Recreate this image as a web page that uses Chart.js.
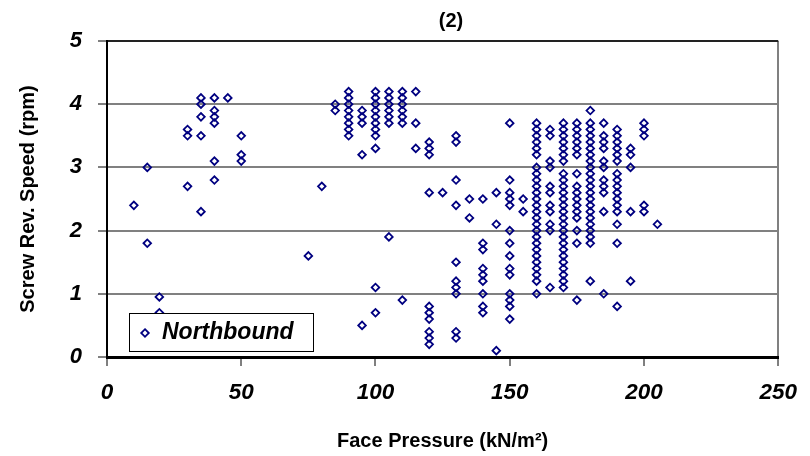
<!DOCTYPE html>
<html>
<head>
<meta charset="utf-8">
<script src="https://cdn.jsdelivr.net/npm/chart.js@4.4.0/dist/chart.umd.min.js"></script>
<style>
  html, body { margin: 0; padding: 0; background: #fff; }
  #wrap { width: 810px; height: 456px; }
</style>
</head>
<body>
<div id="wrap"><canvas id="myChart" width="810" height="456"></canvas></div>
<script>
// Face pressure (kN/m2) of each column of readings
const pressures = [10, 15, 19.5, 30, 35, 40, 45, 50, 75, 80, 85, 90, 95, 100, 105, 110, 115, 120, 125, 130,
    135, 140, 145, 150, 155, 160, 165, 170, 175, 180, 185, 190, 195, 200, 205];

// Screw rev. speed (rpm) read at each pressure above
const speeds = [
    [2.4],
    [3.0, 1.8],
    [0.95, 0.7],
    [3.6, 3.5, 2.7],
    [4.1, 4.0, 3.8, 3.5, 2.3],
    [4.1, 3.9, 3.8, 3.7, 3.1, 2.8],
    [4.1],
    [3.5, 3.2, 3.1],
    [1.6],
    [2.7],
    [4.0, 3.9],
    [4.2, 4.1, 4.0, 3.9, 3.8, 3.7, 3.6, 3.5],
    [3.9, 3.8, 3.7, 3.2, 0.5],
    [4.2, 4.1, 4.0, 3.9, 3.8, 3.7, 3.6, 3.5, 3.3, 1.1, 0.7],
    [4.2, 4.1, 4.0, 3.9, 3.8, 3.7, 1.9],
    [4.2, 4.1, 4.0, 3.9, 3.8, 3.7, 0.9],
    [4.2, 3.7, 3.3],
    [3.4, 3.3, 3.2, 2.6, 0.8, 0.7, 0.6, 0.4, 0.3, 0.2],
    [2.6],
    [3.5, 3.4, 2.8, 2.4, 1.5, 1.2, 1.1, 1.0, 0.4, 0.3],
    [2.5, 2.2],
    [2.5, 1.8, 1.7, 1.4, 1.3, 1.2, 1.0, 0.8, 0.7],
    [2.6, 2.1, 0.1],
    [3.7, 2.8, 2.6, 2.5, 2.4, 2.0, 1.8, 1.6, 1.4, 1.3, 1.0, 0.9, 0.8, 0.6],
    [2.5, 2.3],
    [3.7, 3.6, 3.5, 3.4, 3.3, 3.2, 3.0, 2.9, 2.8, 2.7, 2.6, 2.5, 2.4, 2.3, 2.2, 2.1, 2.0, 1.9, 1.8, 1.7, 1.6, 1.5, 1.4, 1.3, 1.2, 1.0],
    [3.6, 3.5, 3.1, 3.0, 2.7, 2.6, 2.4, 2.3, 2.1, 2.0, 1.1],
    [3.7, 3.6, 3.5, 3.4, 3.3, 3.2, 3.1, 2.9, 2.8, 2.7, 2.6, 2.5, 2.4, 2.3, 2.2, 2.1, 2.0, 1.9, 1.8, 1.7, 1.6, 1.5, 1.4, 1.3, 1.2, 1.1],
    [3.7, 3.6, 3.5, 3.4, 3.3, 3.2, 2.9, 2.7, 2.6, 2.5, 2.4, 2.3, 2.2, 2.0, 1.8, 0.9],
    [3.9, 3.7, 3.6, 3.5, 3.4, 3.3, 3.2, 3.1, 3.0, 2.9, 2.8, 2.7, 2.6, 2.5, 2.4, 2.3, 2.2, 2.1, 2.0, 1.9, 1.8, 1.2],
    [3.7, 3.5, 3.4, 3.3, 3.1, 3.0, 2.8, 2.7, 2.6, 2.3, 1.0],
    [3.6, 3.5, 3.4, 3.3, 3.2, 3.1, 2.9, 2.8, 2.7, 2.6, 2.5, 2.4, 2.3, 2.1, 1.8, 0.8],
    [3.3, 3.2, 3.0, 2.3, 1.2],
    [3.7, 3.6, 3.5, 2.4, 2.3],
    [2.1]
];

const seriesName = 'Northbound';
const chartTitle = '(2)';
const xTitle = 'Face Pressure (kN/m\u00B2)';
const yTitle = 'Screw Rev. Speed (rpm)';

const FONT = '"Liberation Sans", Arial, sans-serif';
const navy = '#000080';

// monta os pontos (x, y)
const points = [];
pressures.forEach((p, i) => {
    speeds[i].forEach(s => points.push({ x: p, y: s }));
});

// título "(2)" centrado sobre a área do gráfico
const titlePlugin = {
    id: 'topTitle',
    afterDraw(chart) {
        const c = chart.ctx;
        c.save();
        c.font = 'bold 20px ' + FONT;
        c.fillStyle = '#000';
        c.textAlign = 'center';
        c.textBaseline = 'middle';
        c.fillText(chartTitle, 451, 21);
        c.restore();
    }
};

// legenda dentro da área do gráfico, desenhada por cima dos pontos
const boxLegend = {
    id: 'boxLegend',
    afterDraw(chart) {
        const c = chart.ctx;
        c.save();
        c.fillStyle = '#fff';
        c.fillRect(129, 313, 184, 38);
        c.strokeStyle = '#000';
        c.lineWidth = 1;
        c.strokeRect(129.5, 313.5, 184, 38);
        // marcador
        c.beginPath();
        c.moveTo(145, 329.2);
        c.lineTo(148.8, 333);
        c.lineTo(145, 336.8);
        c.lineTo(141.2, 333);
        c.closePath();
        c.strokeStyle = navy;
        c.lineWidth = 1.8;
        c.stroke();
        c.font = 'italic bold 23px ' + FONT;
        c.fillStyle = '#000';
        c.textAlign = 'left';
        c.textBaseline = 'middle';
        c.fillText(seriesName, 162, 333);
        c.restore();
    }
};

const ctx = document.getElementById('myChart').getContext('2d');
new Chart(ctx, {
    type: 'scatter',
    data: {
        datasets: [{
            label: seriesName,
            data: points,
            pointStyle: 'rectRot',
            pointRadius: 3.8,
            pointBorderWidth: 1.8,
            pointBorderColor: navy,
            pointBackgroundColor: 'rgba(255,255,255,0)',
            pointHoverRadius: 3.8
        }]
    },
    options: {
        responsive: false,
        animation: false,
        layout: { padding: { top: 41, right: 31, left: 0, bottom: 0 } },
        scales: {
            x: {
                type: 'linear',
                min: 0,
                max: 250,
                afterFit: s => { s.height = 99; },
                ticks: {
                    stepSize: 50,
                    color: '#000',
                    padding: 13,
                    font: { family: FONT, size: 22.5, style: 'italic', weight: 'bold' }
                },
                grid: {
                    color: c => (c.tick && c.tick.value === 250) ? '#808080' : 'rgba(0,0,0,0)',
                    lineWidth: 2,
                    tickLength: 9,
                    tickColor: '#000',
                    tickWidth: 1
                },
                border: { color: '#000', width: 3 },
                title: {
                    display: true,
                    text: xTitle,
                    color: '#000',
                    padding: { top: 0, bottom: 3 },
                    font: { family: FONT, size: 20, weight: 'bold' }
                }
            },
            y: {
                min: 0,
                max: 5,
                afterFit: s => { s.width = 107; },
                ticks: {
                    stepSize: 1,
                    color: '#000',
                    padding: 16,
                    font: { family: FONT, size: 22, style: 'italic', weight: 'bold' }
                },
                grid: {
                    color: c => {
                        const v = c.tick ? c.tick.value : 0;
                        if (v === 0) return 'rgba(0,0,0,0)';
                        if (v === 5) return '#222';
                        return '#808080';
                    },
                    lineWidth: 2,
                    tickLength: 9,
                    tickColor: '#000',
                    tickWidth: 1
                },
                border: { color: '#000', width: 2 },
                title: {
                    display: true,
                    text: yTitle,
                    color: '#000',
                    padding: { top: 16, bottom: 0 },
                    font: { family: FONT, size: 20, weight: 'bold' }
                }
            }
        },
        plugins: {
            legend: { display: false },
            tooltip: { enabled: false }
        }
    },
    plugins: [titlePlugin, boxLegend]
});
</script>
</body>
</html>
